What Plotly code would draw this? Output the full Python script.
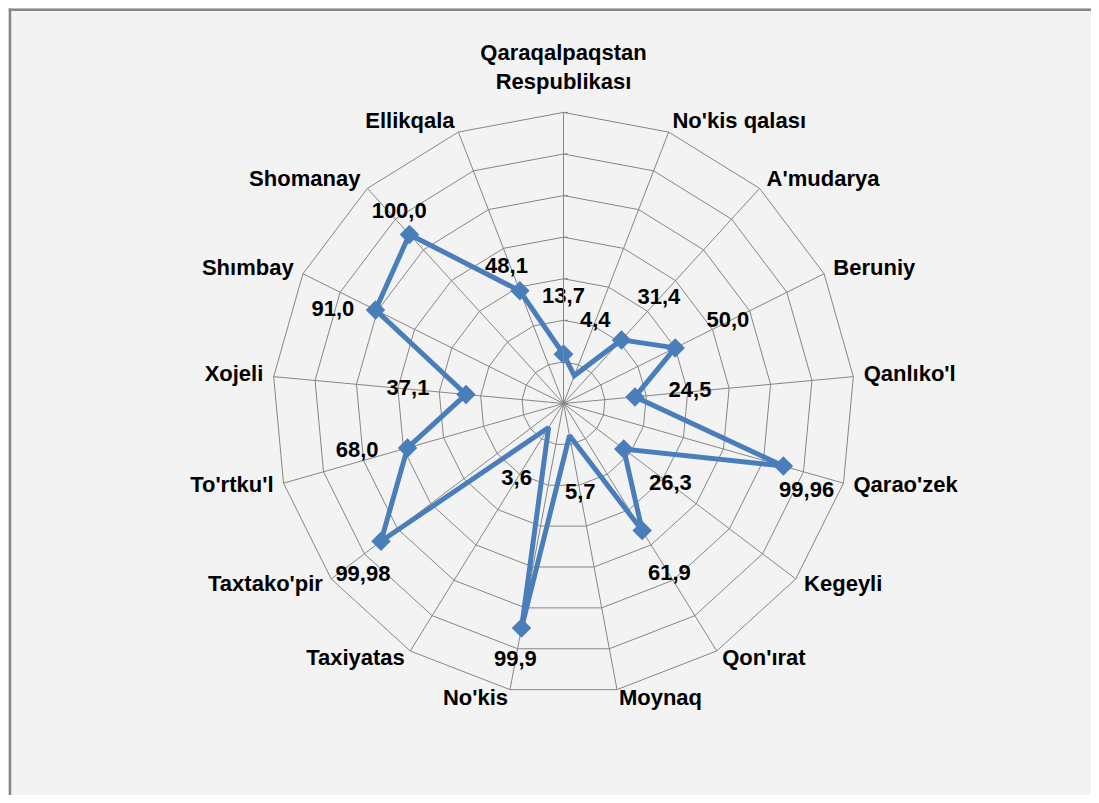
import plotly.graph_objects as go

categories = [
    "Qaraqalpaqstan<br>Respublikası", "No'kis qalası", "A'mudarya", "Beruniy",
    "Qanlıko'l", "Qarao'zek", "Kegeyli", "Qon'ırat", "Moynaq", "No'kis",
    "Taxiyatas", "Taxtako'pir", "To'rtku'l", "Xojeli", "Shımbay", "Shomanay",
    "Ellikqala",
]
values = [13.7, 4.4, 31.4, 50.0, 24.5, 99.96, 26.3, 61.9, 5.7, 99.9,
          3.6, 99.98, 68.0, 37.1, 91.0, 100.0, 48.1]
value_labels = ["13,7", "4,4", "31,4", "50,0", "24,5", "99,96", "26,3", "61,9",
                "5,7", "99,9", "3,6", "99,98", "68,0", "37,1", "91,0", "100,0",
                "48,1"]

# data-label placement (radial distance from the point, axis units) and anchor
label_offset = [27.5, 27.9, 26.7, 28.3, 26.6, 25.4, 28.1, 24.8, 28.2, 16.0,
                29.2, 27.5, 25.2, 28.0, 11.4, 7.3, 17.8]
label_pos = ["middle center"] * 17
label_pos[5] = "bottom left"
label_pos[11] = "middle right"
label_pos[12] = "top center"
label_pos[14] = "bottom left"
label_pos[15] = "top center"
label_pos[16] = "bottom center"

# category-label placement (axis units, same scale as the chart)
cat_r = [151.0] + [135.0] * 16
cat_pos = ["middle center"] + ["middle right"] * 8 + ["middle left"] * 8

FONT = "Liberation Sans"
BLUE = "#4a7ebb"
GRID = "#868686"

R_MIN, R_MAX = -10, 130

W, H = 1091, 787
AREA = 700          # outer square that also holds the category labels
R_PX = 291.5        # radius of the chart's polygon grid
ML, MT = 205.5, 45.5
MR = W - ML - AREA
MB = H - MT - AREA
PW = PH = AREA

inner = (AREA / 2 - R_PX) / AREA
dom_in = [inner, 1 - inner]
outer_max = (AREA / 2) / (R_PX / (R_MAX - R_MIN)) + R_MIN

theta_closed = categories + categories[:1]
r_closed = values + values[:1]

fig = go.Figure()
fig.add_trace(go.Scatterpolar(
    r=r_closed, theta=theta_closed, mode="lines+markers",
    line=dict(color=BLUE, width=5),
    marker=dict(symbol="diamond", size=15, color=BLUE),
    hoverinfo="skip", showlegend=False, subplot="polar",
))
fig.add_trace(go.Scatterpolar(
    r=[v + o for v, o in zip(values, label_offset)], theta=categories,
    mode="text", text=[f"<b>{t}</b>" for t in value_labels],
    textposition=label_pos,
    textfont=dict(family=FONT, size=22, color="#000000"),
    hoverinfo="skip", showlegend=False, subplot="polar",
))
fig.add_trace(go.Scatterpolar(
    r=cat_r, theta=categories,
    mode="text", text=[f"<b>{c}</b>" for c in categories],
    textposition=cat_pos, cliponaxis=False,
    textfont=dict(family=FONT, size=22, color="#000000"),
    hoverinfo="skip", showlegend=False, subplot="polar2",
))

def px_x(p):
    return (p - ML) / PW

def px_y(p):
    return (H - MB - p) / PH

# chart-area border (left and top edges visible)
fig.add_shape(type="line", xref="paper", yref="paper",
              x0=px_x(1.2), x1=px_x(1.2), y0=px_y(0), y1=px_y(H + 10),
              line=dict(color=GRID, width=2.5), layer="below")
fig.add_shape(type="line", xref="paper", yref="paper",
              x0=px_x(0), x1=px_x(W + 10), y0=px_y(1.2), y1=px_y(1.2),
              line=dict(color=GRID, width=2.5), layer="below")

fig.update_layout(
    width=W, height=H,
    margin=dict(l=ML, r=MR, t=MT, b=MB, pad=0),
    paper_bgcolor="#f3f3f3",
    font=dict(family=FONT, size=22, color="#000000"),
    polar=dict(
        bgcolor="rgba(0,0,0,0)",
        gridshape="linear",
        domain=dict(x=dom_in, y=dom_in),
        angularaxis=dict(
            direction="clockwise", rotation=90,
            showgrid=True, gridcolor=GRID, gridwidth=1,
            showline=True, linecolor=GRID, linewidth=1,
            ticks="", showticklabels=False,
        ),
        radialaxis=dict(
            range=[R_MIN, R_MAX], tick0=10, dtick=20,
            angle=90, showticklabels=False,
            ticks="outside", ticklen=4, tickcolor=GRID,
            showline=True, linecolor=GRID, linewidth=1,
            showgrid=True, gridcolor=GRID, gridwidth=1,
        ),
    ),
    polar2=dict(
        bgcolor="rgba(0,0,0,0)",
        domain=dict(x=[0, 1], y=[0, 1]),
        angularaxis=dict(
            direction="clockwise", rotation=90, categoryarray=categories,
            showgrid=False, showline=False, ticks="", showticklabels=False,
        ),
        radialaxis=dict(
            range=[R_MIN, outer_max], visible=False,
            showgrid=False, showline=False,
        ),
    ),
)

fig.write_html("out.html")
